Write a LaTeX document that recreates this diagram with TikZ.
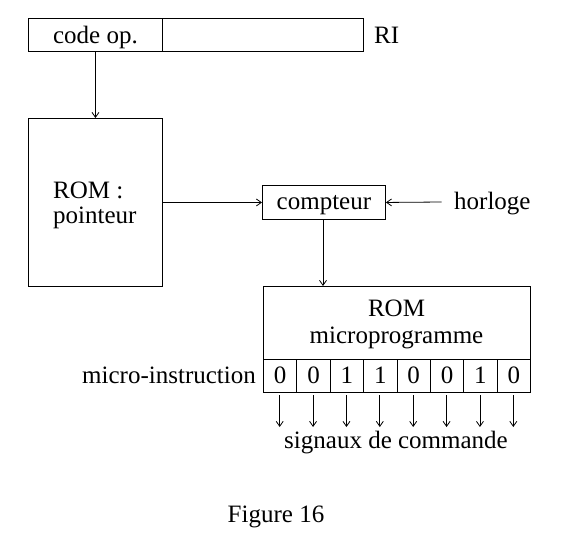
\documentclass[tikz,border=0pt]{standalone}
\usepackage{fontspec}
\setmainfont{Liberation Serif}
\usetikzlibrary{arrows.meta,positioning}
\begin{document}
\begin{tikzpicture}[x=1pt,y=-1pt,
  every node/.style={font=\fontsize{25}{26}\selectfont, inner sep=0pt},
  box/.style={draw, line width=0.9pt, anchor=north west},
  arr/.style={-{Straight Barb[length=5pt,width=7pt,line width=0.8pt]}, line width=0.8pt},
  bit/.style={draw, line width=0.9pt, minimum width=33.375pt, minimum height=33pt, anchor=north west, text height=15.6pt, text depth=0pt}]
\useasboundingbox (0,0) rectangle (570,544);
% RI register
\node[box, minimum width=134pt, minimum height=33pt, text height=17.2pt, text depth=0pt] (codeop) at (28,18) {code op.};
\node[box, minimum width=201pt, minimum height=33pt] (rirest) at (162,18) {};
\node[anchor=base west] (ri) at (374,43.3) {RI};
% ROM pointeur
\node[box, minimum width=134pt, minimum height=168pt] (rompt) at (28,118) {};
\node[anchor=base west] (romptA) at (53,198.3) {ROM :};
\node[anchor=base west] (romptB) at (53,223.3) {pointeur};
% compteur
\node[box, minimum width=123pt, minimum height=34pt, text height=14.6pt, text depth=0pt] (compteur) at (262,185) {compteur};
\node[anchor=base west] (horloge) at (454,209.3) {horloge};
\coordinate (hstart) at (441.7,202);
% ROM microprogramme
\node[box, minimum width=267pt, minimum height=73pt] (rommp) at (263,286) {};
\node[anchor=base] (rommpA) at (396.5,316.7) {ROM};
\node[anchor=base] (rommpB) at (396.5,343.3) {microprogramme};
% bits
\foreach \b [count=\i from 0] in {0,0,1,1,0,0,1,0} {
  \node[bit] (b\i) at ({263+33.375*\i},359) {\b};
  \coordinate (s\i) at ({263+33.375*\i+16.69},395);
  \coordinate (e\i) at ({263+33.375*\i+16.69},427);
  \draw[arr] (s\i) -- (e\i);
}
\node[anchor=base east] (mi) at (256,383.3) {micro-instruction};
\node[anchor=base] (sig) at (396,448) {signaux de commande};
\node[anchor=base] (fig) at (276,522.3) {Figure 16};
% connectors
\draw[arr] (codeop.south) -- (rompt.north -| codeop.south);
\draw[arr] (rompt.east |- compteur.west) -- (compteur.west);
\draw[arr] (hstart) -- (compteur.east);
\coordinate (ctop) at (323,286);
\draw[arr] (compteur.south -| ctop) -- (ctop);
\end{tikzpicture}
\end{document}
